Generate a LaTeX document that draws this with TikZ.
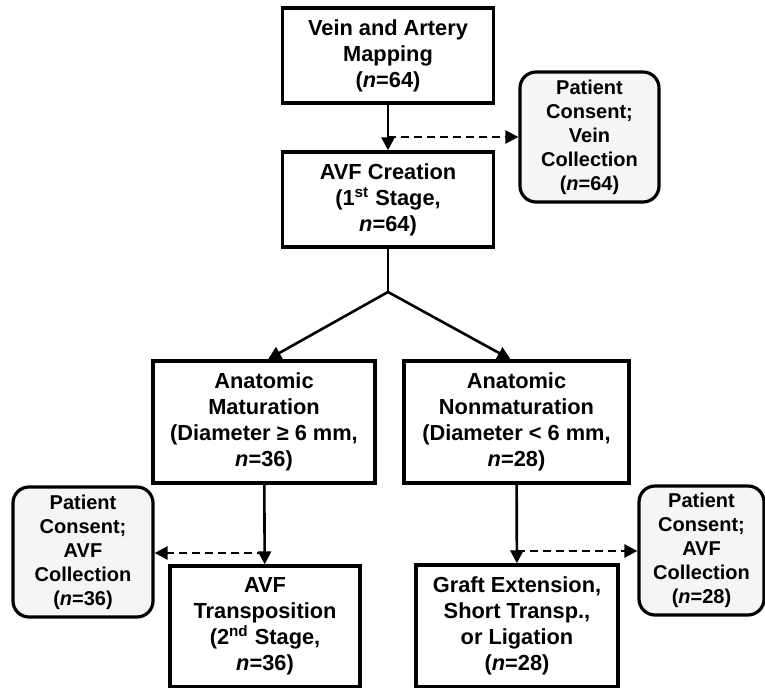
\documentclass[tikz,border=0pt]{standalone}
\usepackage{fontspec}
\setmainfont{Liberation Sans}
\usepackage{tikz}
\usetikzlibrary{arrows.meta}

\begin{document}
\begin{tikzpicture}[x=0.5pt, y=-0.5pt,
    box/.style={draw, line width=1.7pt, align=center, inner sep=2pt,
      font=\bfseries\fontsize{10.9}{13}\selectfont},
    consent/.style={draw, line width=1.6pt, rounded corners=8pt, fill=gray!8,
      align=center, inner sep=1pt, font=\bfseries\fontsize{10}{12}\selectfont},
    flow/.style={line width=1.3pt, -{Triangle[length=6.5pt, width=6.5pt]}},
    side/.style={flow, dash pattern=on 4pt off 2.5pt}]
  \useasboundingbox (0,0) rectangle (765,688);
  % Cajas
  \node[box, minimum width=105.5pt, minimum height=47.5pt] (map) at (388,55.5)
    {Vein and Artery\\Mapping\\(\textit{n}=64)};
  \node[box, minimum width=105.5pt, minimum height=47.5pt] (avf) at (388,199.5)
    {AVF Creation\\(1\textsuperscript{st} Stage,\\\textit{n}=64)};
  \node[consent, minimum width=69.5pt, minimum height=65pt] (cons1) at (589.5,137)
    {Patient\\Consent;\\Vein\\Collection\\(\textit{n}=64)};
  \node[box, minimum width=111pt, minimum height=61pt] (mat) at (264,422)
    {Anatomic\\Maturation\\(Diameter ≥ 6 mm,\\\textit{n}=36)};
  \node[box, minimum width=112.5pt, minimum height=61pt] (nonmat) at (516.5,422)
    {Anatomic\\Nonmaturation\\(Diameter < 6 mm,\\\textit{n}=28)};
  \node[box, minimum width=95pt, minimum height=60.5pt] (trans) at (265,626.5)
    {AVF\\Transposition\\(2\textsuperscript{nd} Stage,\\\textit{n}=36)};
  \node[box, minimum width=101pt, minimum height=61pt] (graft) at (517,626)
    {Graft Extension,\\Short Transp.,\\or Ligation\\(\textit{n}=28)};
  \node[consent, minimum width=70pt, minimum height=65pt] (cons2) at (83,552)
    {Patient\\Consent;\\AVF\\Collection\\(\textit{n}=36)};
  \node[consent, minimum width=62.5pt, minimum height=64.5pt] (cons3) at (701.5,550.5)
    {Patient\\Consent;\\AVF\\Collection\\(\textit{n}=28)};

  \coordinate (j1) at (388,137);
  \coordinate (br) at (388,292);
  \coordinate (j2) at (265,553);
  \coordinate (j3) at (517,551);

  % Flechas
  \draw[flow] (map) -- (avf);
  \draw[side] (j1) -- (cons1.west);
  \draw[line width=1.3pt] (avf) -- (br);
  \draw[flow] (br) -- ([xshift=2pt]mat.north);
  \draw[flow] (br) -- ([xshift=-3pt]nonmat.north);
  \draw[flow] (mat) -- (trans);
  \draw[side] (j2) -- (j2 -| cons2.east);
  \draw[flow] (nonmat) -- (graft);
  \draw[side] (j3) -- (j3 -| cons3.west);
\end{tikzpicture}
\end{document}
